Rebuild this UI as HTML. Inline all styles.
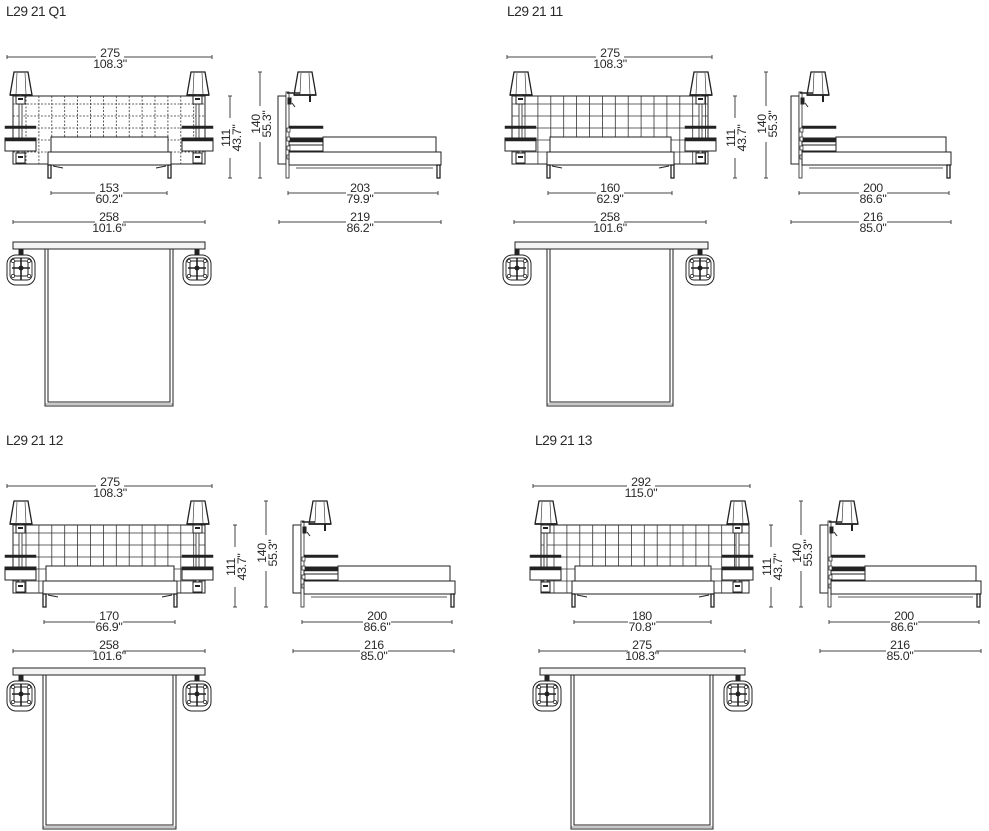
<!DOCTYPE html>
<html><head><meta charset="utf-8"><style>
html,body{margin:0;padding:0;background:#fff;}
svg{display:block;}
text{font-family:"Liberation Sans",sans-serif;fill:#2a2a2a;}
.t{font-size:13.8px;letter-spacing:-0.5px;}
.d{font-size:12.4px;text-anchor:middle;letter-spacing:-0.3px;}
</style></head><body>
<svg id="s" width="989" height="831" viewBox="0 0 989 831" xmlns="http://www.w3.org/2000/svg">
<g id="g" fill="none" stroke="#222" stroke-width="1"></g>
<text class="t" x="6" y="16">L29 21 Q1</text>
<text class="t" x="507" y="16">L29 21 11</text>
<text class="t" x="6" y="445">L29 21 12</text>
<text class="t" x="535" y="445">L29 21 13</text>
<!-- Q1 -->
<text class="d" x="110" y="57">275</text><text class="d" x="110" y="68">108.3"</text>
<text class="d" x="109" y="192">153</text><text class="d" x="109" y="203">60.2"</text>
<text class="d" x="109" y="221">258</text><text class="d" x="109" y="232">101.6"</text>
<text class="d" x="360" y="192">203</text><text class="d" x="360" y="203">79.9"</text>
<text class="d" x="360" y="221">219</text><text class="d" x="360" y="232">86.2"</text>
<text class="d" transform="translate(230,138) rotate(-90)">111</text><text class="d" transform="translate(241,138) rotate(-90)">43.7"</text>
<text class="d" transform="translate(260,124) rotate(-90)">140</text><text class="d" transform="translate(271,124) rotate(-90)">55.3"</text>
<!-- Q2 -->
<text class="d" x="610" y="57">275</text><text class="d" x="610" y="68">108.3"</text>
<text class="d" x="610" y="192">160</text><text class="d" x="610" y="203">62.9"</text>
<text class="d" x="610" y="221">258</text><text class="d" x="610" y="232">101.6"</text>
<text class="d" x="873" y="192">200</text><text class="d" x="873" y="203">86.6"</text>
<text class="d" x="873" y="221">216</text><text class="d" x="873" y="232">85.0"</text>
<text class="d" transform="translate(735,138) rotate(-90)">111</text><text class="d" transform="translate(746,138) rotate(-90)">43.7"</text>
<text class="d" transform="translate(766,124) rotate(-90)">140</text><text class="d" transform="translate(777,124) rotate(-90)">55.3"</text>
<!-- Q3 -->
<text class="d" x="110" y="486">275</text><text class="d" x="110" y="497">108.3"</text>
<text class="d" x="109" y="620">170</text><text class="d" x="109" y="631">66.9"</text>
<text class="d" x="109" y="649">258</text><text class="d" x="109" y="660">101.6"</text>
<text class="d" x="377" y="620">200</text><text class="d" x="377" y="631">86.6"</text>
<text class="d" x="374" y="649">216</text><text class="d" x="374" y="660">85.0"</text>
<text class="d" transform="translate(235,567) rotate(-90)">111</text><text class="d" transform="translate(246,567) rotate(-90)">43.7"</text>
<text class="d" transform="translate(266,553) rotate(-90)">140</text><text class="d" transform="translate(277,553) rotate(-90)">55.3"</text>
<!-- Q4 -->
<text class="d" x="641" y="486">292</text><text class="d" x="641" y="497">115.0"</text>
<text class="d" x="642" y="620">180</text><text class="d" x="642" y="631">70.8"</text>
<text class="d" x="642" y="649">275</text><text class="d" x="642" y="660">108.3"</text>
<text class="d" x="904" y="620">200</text><text class="d" x="904" y="631">86.6"</text>
<text class="d" x="900" y="649">216</text><text class="d" x="900" y="660">85.0"</text>
<text class="d" transform="translate(771,567) rotate(-90)">111</text><text class="d" transform="translate(782,567) rotate(-90)">43.7"</text>
<text class="d" transform="translate(801,553) rotate(-90)">140</text><text class="d" transform="translate(812,553) rotate(-90)">55.3"</text>
</svg>
<script>
(function(){
var G=document.getElementById('g'),NS='http://www.w3.org/2000/svg';
function el(t,a){var e=document.createElementNS(NS,t);for(var k in a)e.setAttribute(k,a[k]);G.appendChild(e);return e;}
function L(x1,y1,x2,y2,w,c,da){var a={x1:x1,y1:y1,x2:x2,y2:y2};if(w)a['stroke-width']=w;if(c)a.stroke=c;if(da)a['stroke-dasharray']=da;return el('line',a);}
function R(x,y,w,h,f,sw,rx){var a={x:x,y:y,width:w,height:h};if(f)a.fill=f;if(sw)a['stroke-width']=sw;if(rx)a.rx=rx;return el('rect',a);}
function hdim(x1,x2,y,cx,gap){L(x1,y,cx-gap,y,1,'#444');L(cx+gap,y,x2,y,1,'#444');L(x1,y-2,x1,y+2,1,'#444');L(x2,y-2,x2,y+2,1,'#444');}
function vdim(x,y1,y2,g1,g2){L(x,y1,x,g1,1,'#444');L(x,g2,x,y2,1,'#444');L(x-2,y1,x+2,y1,1,'#444');L(x-2,y2,x+2,y2,1,'#444');}
function lamp(x,y){el('polygon',{points:(x+4)+','+y+' '+(x+18)+','+y+' '+(x+22)+','+(y+23)+' '+x+','+(y+23),fill:'#fff','stroke-width':1.3});L(x+7,y+1,x+6,y+22,0.6);L(x+15,y+1,x+16,y+22,0.6);L(x,y+23,x+22,y+23,1.8);}
function front(o){var oy=o.oy,d=o.dash?'2,1.5':null;
 R(o.hl,oy+96,o.hr-o.hl,68,'#fff');
 for(var x=o.hl+13;x<o.hr-2;x+=12.9)L(x,oy+96,x,oy+164,0.8,'#333',d);
 [104,116,128,140,152].forEach(function(y){L(o.hl,oy+y,o.hr,oy+y,0.8,'#333',d);});
 [o.ll,o.lr].forEach(function(lx){lamp(lx,oy+72);var sx=lx+9;R(sx,oy+95,3,65,'#fff',0.8);
  R(sx-3,oy+96,9,8,'#fff');R(sx-3,oy+153,9,10,'#fff');L(sx-1,oy+99,sx+4,oy+99,2);L(sx-1,oy+157,sx+4,oy+157,2);
  var s0=lx-5;R(s0,oy+126,31,2.5,'#222',0.5);R(s0,oy+138,31,13,'#fff');R(s0,oy+138,31,3,'#222',0.5);});
 R(o.bl+3,oy+137,o.br-o.bl-6,15,'#fff');R(o.bl,oy+152,o.br-o.bl,13,'#fff');
 R(o.bl,oy+165,3,13,'#fff',1.3);R(o.br-3,oy+165,3,13,'#fff',1.3);L(o.bl+5,oy+166,o.bl+15,oy+168);L(o.br-5,oy+166,o.br-15,oy+168);}
function sidev(sx,end,oy){R(sx,oy+96,8,68,'#fff');R(sx+8,oy+92,3,86,'#fff',0.8);
 lamp(sx+16,oy+72);L(sx+9,oy+93,sx+22,oy+93,1.5);R(sx+10,oy+98,3,6,'#222');L(sx+32,oy+95,sx+32,oy+102,2);L(sx+14,oy+103,sx+17,oy+107);
 R(sx+11,oy+126,34,2.5,'#222',0.5);R(sx+11,oy+138,34,13,'#fff');R(sx+11,oy+138,34,4,'#222',0.5);L(sx+11,oy+145,sx+45,oy+145);
 for(var k=0;k<4;k++)R(sx+9,oy+128+k*9,3,4,'#fff',0.7);
 R(sx+45,oy+137,end-sx-50,15,'#fff');R(sx+11,oy+152,end-sx-11,13,'#fff');L(sx+11,oy+165,end,oy+165);L(sx+18,oy+168,end-8,oy+168,0.8);
 R(end-4,oy+165,3,13,'#fff',1.3);}
function topv(o){var oy=o.oy;R(o.tl,oy+242,o.tr-o.tl,7,'#f4f4f4');
 R(o.bl,oy+249,o.br-o.bl,o.bot-249,'#fff');R(o.bl+3,oy+249,o.br-o.bl-6,o.bot-253);L(o.bl,oy+o.bot-2,o.br,oy+o.bot-2,0.6);
 [o.nl,o.nr].forEach(function(nx){var y=oy+255;R(nx+12,oy+249,4,6,'#222');R(nx,y,28,30,'#fff',1,9);R(nx+3,y+3,22,22,'#fff',0.9,5);R(nx+7,y+6,14,15,'#fff',1,2);
  L(nx+14,y+3,nx+14,y+25,1.6);L(nx+5,y+13,nx+23,y+13,1.6);el('circle',{cx:nx+14,cy:y+13,r:2,fill:'#222'});
  [[6,6],[22,6],[6,21],[22,21]].forEach(function(p){el('circle',{cx:nx+p[0],cy:y+p[1],r:1.6,fill:'#fff','stroke-width':0.7});});});}
// Q1
front({oy:0,hl:13,hr:205,ll:10,lr:187,bl:48,br:171,dash:1});
sidev(278,441,0);
hdim(7,212,57,110,14);hdim(51,167,193,109,14);hdim(13,205,222,109,14);hdim(288,438,193,360,14);hdim(279,441,222,360,14);
vdim(230,96,178,118,158);vdim(260,72,178,106,142);
topv({oy:0,tl:13,tr:205,bl:45,br:173,bot:406,nl:7,nr:183});
// Q2
front({oy:0,hl:512,hr:708,ll:510,lr:690,bl:547,br:674});
sidev(791,951,0);
hdim(507,712,57,610,14);hdim(548,672,193,610,14);hdim(514,706,222,610,14);hdim(799,949,193,873,14);hdim(791,951,222,873,14);
vdim(735,96,178,118,158);vdim(766,72,178,106,142);
topv({oy:0,tl:515,tr:708,bl:547,br:673,bot:406,nl:503,nr:686});
// Q3
front({oy:429,hl:13,hr:205,ll:10,lr:187,bl:43,br:177});
sidev(293,455,429);
hdim(7,212,486,110,14);hdim(44,175,622,109,14);hdim(13,205,651,109,14);hdim(302,452,622,377,14);hdim(293,454,651,374,14);
vdim(235,525,607,547,587);vdim(266,501,607,535,571);
topv({oy:426,tl:13,tr:205,bl:43,br:176,bot:403,nl:7,nr:183});
// Q4
front({oy:429,hl:541,hr:749,ll:535,lr:727,bl:572,br:714});
sidev(820,981,429);
hdim(533,750,486,641,14);hdim(574,711,622,642,14);hdim(539,745,651,642,14);hdim(829,979,622,904,14);hdim(820,981,651,900,14);
vdim(771,525,607,547,587);vdim(801,501,607,535,571);
topv({oy:426,tl:540,tr:745,bl:571,br:713,bot:403,nl:533,nr:724});
})();
</script>
</body></html>
